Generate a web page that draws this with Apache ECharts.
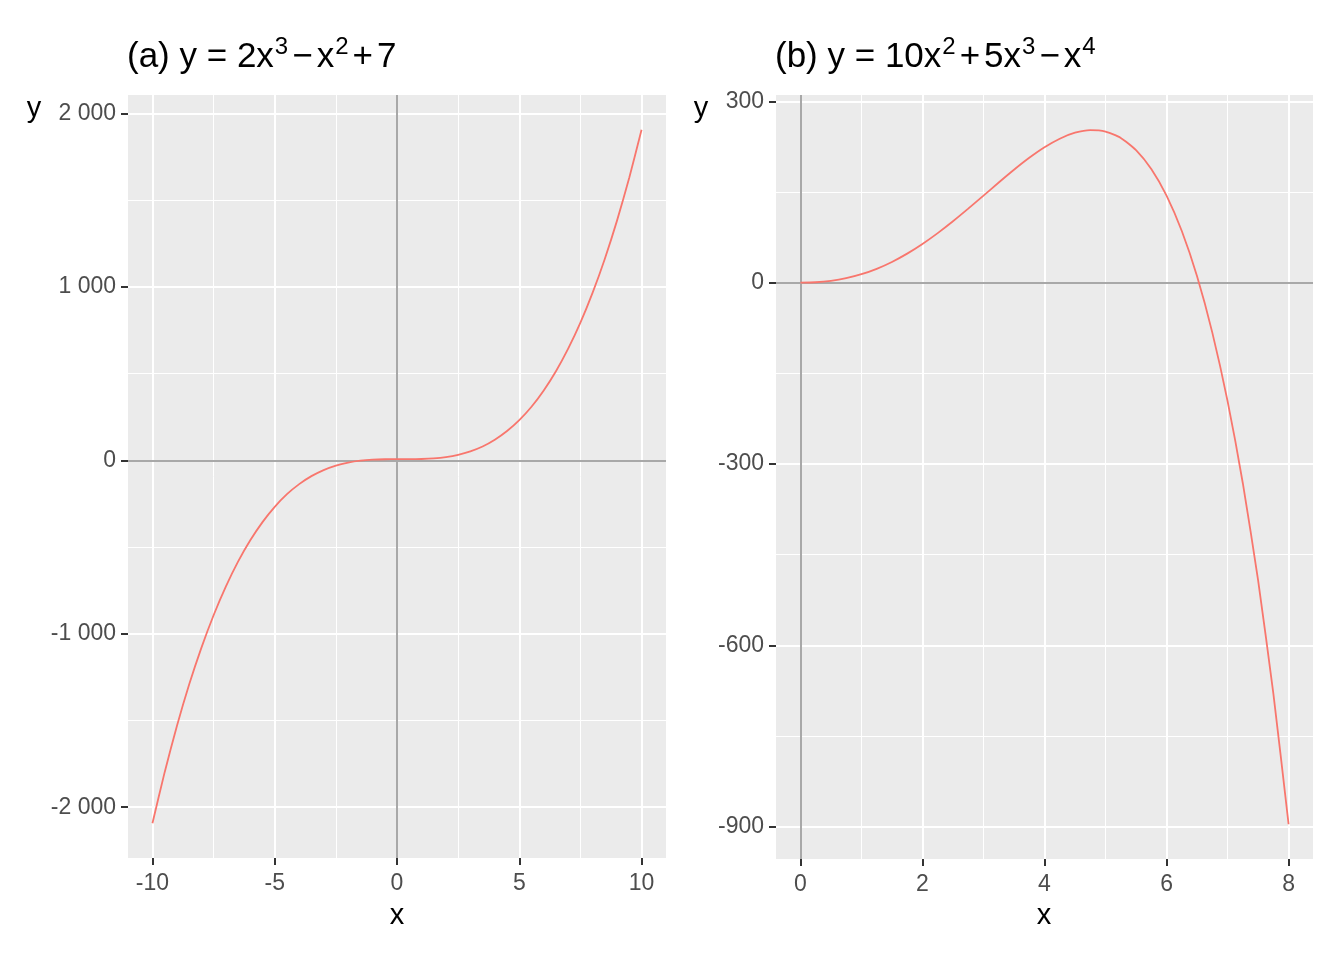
<!DOCTYPE html>
<html>
<head>
<meta charset="utf-8">
<script src="https://cdn.jsdelivr.net/npm/echarts@6/dist/echarts.min.js"></script>
<style>
html,body{margin:0;padding:0;background:#fff;}
#chart{width:1344px;height:960px;}
</style>
</head>
<body>
<div id="chart"></div>
<script>
// Panel (a): y = 2x^3 - x^2 + 7
const xA = [-10,-9.5,-9,-8.5,-8,-7.5,-7,-6.5,-6,-5.5,-5,-4.5,-4,-3.5,-3,-2.5,-2,-1.5,-1,-0.5,0,0.5,1,1.5,2,2.5,3,3.5,4,4.5,5,5.5,6,6.5,7,7.5,8,8.5,9,9.5,10];
const yA = [-2093,-1798,-1532,-1293,-1081,-893,-728,-584,-461,-356,-268,-195,-137,-91,-56,-30,-13,-2,4,6.5,7,7,8,11.5,19,32,52,80,119,169,232,309,403,514,644,794,967,1163,1384,1631,1907];
const xTicksA = [-10,-5,0,5,10];
const xMinorA = [-7.5,-2.5,2.5,7.5];
const yTicksA = [-2000,-1000,0,1000,2000];
const yMinorA = [-1500,-500,500,1500];

// Panel (b): y = 10x^2 + 5x^3 - x^4
const xB = [0,0.25,0.5,0.75,1,1.25,1.5,1.75,2,2.25,2.5,2.75,3,3.25,3.5,3.75,4,4.25,4.5,4.75,5,5.25,5.5,5.75,6,6.25,6.5,6.75,7,7.25,7.5,7.75,8];
const yB = [0,0.7,3.06,7.42,14,22.95,34.31,48.04,64,81.95,101.56,122.42,144,165.7,186.81,206.54,224,238.2,248.06,252.42,250,239.45,219.31,188.04,144,85.45,10.56,-82.58,-196,-331.8,-492.19,-679.5,-896];
const xTicksB = [0,2,4,6,8];
const xMinorB = [1,3,5,7];
const yTicksB = [-900,-600,-300,0,300];
const yMinorB = [-750,-450,-150,150];

const FONT = '"Liberation Sans", Arial, sans-serif';
const fmt = v => {
  const s = Math.abs(v).toString().replace(/\B(?=(\d{3})+(?!\d))/g, ' ');
  return (v < 0 ? '-' : '') + s;
};

function axisCfg(gi, min, max, ticks, margin) {
  return {
    type: 'value', gridIndex: gi, min: min, max: max,
    axisLine: {show: false, onZero: false},
    axisTick: {show: true, length: 7, customValues: ticks, lineStyle: {color: '#333333', width: 2}},
    axisLabel: {customValues: ticks, color: '#4D4D4D', fontSize: 23, fontFamily: FONT, margin: margin, formatter: fmt},
    splitLine: {show: true, lineStyle: {color: '#FFFFFF', width: 2}}
  };
}
function guideLines(xMinor, yMinor) {
  const d = [];
  xMinor.forEach(v => d.push({xAxis: v, lineStyle: {color: '#FFFFFF', width: 1, type: 'solid'}}));
  yMinor.forEach(v => d.push({yAxis: v, lineStyle: {color: '#FFFFFF', width: 1, type: 'solid'}}));
  d.push({xAxis: 0, lineStyle: {color: '#A8A8A8', width: 2, type: 'solid'}});
  d.push({yAxis: 0, lineStyle: {color: '#A8A8A8', width: 2, type: 'solid'}});
  return {silent: true, z: 1, symbol: ['none','none'], label: {show: false}, animation: false, data: d};
}
function pairs(xs, ys) { return xs.map((x, i) => [x, ys[i]]); }

const rich = {
  n: {fontSize: 35, fontFamily: FONT, fontWeight: 'normal', color: '#000000', lineHeight: 44},
  o: {fontSize: 35, fontFamily: FONT, fontWeight: 'normal', color: '#000000', lineHeight: 44, padding: [0, 4, 0, 4]},
  s: {fontSize: 24, fontFamily: FONT, fontWeight: 'normal', color: '#000000', lineHeight: 14, verticalAlign: 'top', padding: [0, 0, 0, 1]}
};

const chart = echarts.init(document.getElementById('chart'), null, {renderer: 'canvas'});
chart.setOption({
  animation: false,
  backgroundColor: '#FFFFFF',
  title: [
    {text: '{n|(a) y = 2x}{s|3}{o|−}{n|x}{s|2}{o|+}{n|7}', left: 127, top: 35, padding: 0, textStyle: {fontWeight: 'normal', rich: rich}},
    {text: '{n|(b) y = 10x}{s|2}{o|+}{n|5x}{s|3}{o|−}{n|x}{s|4}', left: 775, top: 35, padding: 0, textStyle: {fontWeight: 'normal', rich: rich}}
  ],
  grid: [
    {left: 128, top: 95, width: 538, height: 763, show: true, backgroundColor: '#EBEBEB', borderWidth: 0},
    {left: 776, top: 95, width: 537, height: 764, show: true, backgroundColor: '#EBEBEB', borderWidth: 0}
  ],
  xAxis: [axisCfg(0, -11, 11, xTicksA, 14), axisCfg(1, -0.4, 8.4, xTicksB, 14)],
  yAxis: [axisCfg(0, -2293, 2107, yTicksA, 12), axisCfg(1, -953.5, 310.5, yTicksB, 12)],
  series: [
    {type: 'line', xAxisIndex: 0, yAxisIndex: 0, data: pairs(xA, yA), showSymbol: false, smooth: 0.2, z: 3,
     lineStyle: {color: '#F8766D', width: 1.8}, markLine: guideLines(xMinorA, yMinorA)},
    {type: 'line', xAxisIndex: 1, yAxisIndex: 1, data: pairs(xB, yB), showSymbol: false, smooth: 0.2, z: 3,
     lineStyle: {color: '#F8766D', width: 1.8}, markLine: guideLines(xMinorB, yMinorB)}
  ],
  graphic: [
    {type: 'text', x: 397, y: 916, style: {text: 'x', font: '29px ' + FONT, fill: '#000000', textAlign: 'center', textVerticalAlign: 'middle'}},
    {type: 'text', x: 1044, y: 916, style: {text: 'x', font: '29px ' + FONT, fill: '#000000', textAlign: 'center', textVerticalAlign: 'middle'}},
    {type: 'text', x: 34, y: 109, style: {text: 'y', font: '29px ' + FONT, fill: '#000000', textAlign: 'center', textVerticalAlign: 'middle'}},
    {type: 'text', x: 701, y: 109, style: {text: 'y', font: '29px ' + FONT, fill: '#000000', textAlign: 'center', textVerticalAlign: 'middle'}}
  ]
});
</script>
</body>
</html>
